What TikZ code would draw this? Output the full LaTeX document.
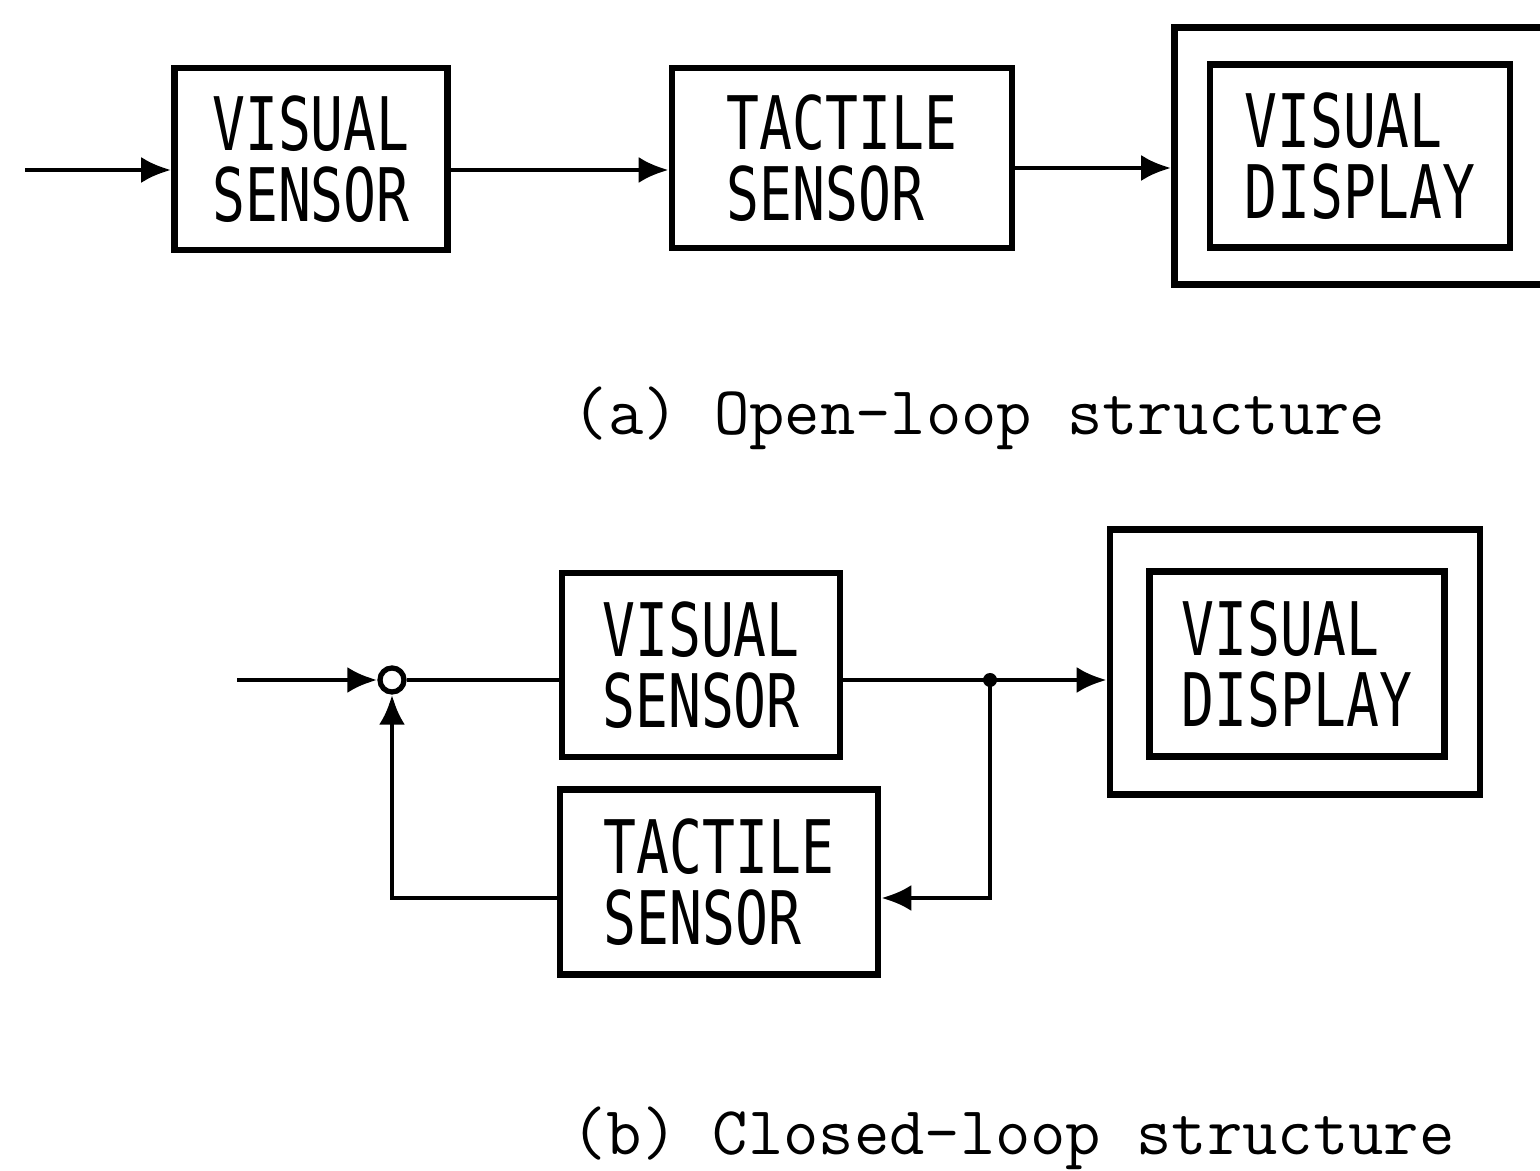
\documentclass[tikz,border=0pt]{standalone}
\usepackage{fontspec}
\usetikzlibrary{arrows.meta}
\newfontfamily\blkfont[FakeStretch=0.74]{DejaVu Sans Mono}
\tikzset{
  blk/.style={draw, line width=1.8pt, align=left, inner sep=0pt,
    font=\blkfont\fontsize{21}{20}\selectfont},
  wire/.style={line width=1.4pt},
  arr/.style={wire, -{Latex[length=3mm,width=2.6mm]}},
  caption/.style={font=\ttfamily\fontsize{19.5}{20}\selectfont}
}
\begin{document}
\begin{tikzpicture}[x=0.01cm,y=-0.01cm]
\useasboundingbox (0,0) rectangle (1540,1171);

% open loop
\coordinate (inA) at (25,170);
\node[blk, minimum width=2.73cm, minimum height=1.82cm] (visA) at (311,159) {VISUAL\\SENSOR};
\node[blk, minimum width=3.40cm, minimum height=1.80cm] (tacA) at (842,158) {TACTILE\\SENSOR};
\node[blk, minimum width=3.85cm, minimum height=2.57cm] (dispAout) at (1367,156) {};
\node[blk, minimum width=3.00cm, minimum height=1.83cm] (dispA) at (1360,156) {VISUAL\\DISPLAY};
\draw[arr] (inA) -- (inA -| visA.west);
\draw[arr] (visA.east |- inA) -- (tacA.west |- inA);
\draw[arr] (tacA.east |- 0,168) -- (dispAout.west |- 0,168);
\node[caption] (capA) at (979,418) {(a) Open-loop structure};

% closed loop
\coordinate (inB) at (237,680);
\node[draw, circle, line width=1.5pt, minimum size=0.24cm, inner sep=0pt] (sum) at (392,680) {};
\node[blk, minimum width=2.78cm, minimum height=1.84cm] (visB) at (701,665) {VISUAL\\SENSOR};
\node[blk, minimum width=3.18cm, minimum height=1.85cm] (tacB) at (719,882) {TACTILE\\SENSOR};
\node[blk, minimum width=3.70cm, minimum height=2.65cm] (dispBout) at (1295,662) {};
\node[blk, minimum width=2.95cm, minimum height=1.85cm] (dispB) at (1297,664) {VISUAL\\DISPLAY};
\coordinate (jB) at (990,680);
\coordinate (fbR) at (990,898);
\coordinate (fbL) at (392,898);
\fill (jB) circle (7);
\draw[arr] (inB) -- (sum.west);
\draw[wire] (sum.east) -- (visB.west |- sum);
\draw[wire] (visB.east |- sum) -- (jB);
\draw[arr] (jB) -- (dispBout.west |- jB);
\draw[arr] (jB) -- (fbR) -- (tacB.east |- fbR);
\draw[arr] (tacB.west |- fbL) -- (fbL) -- (sum.south);
\node[caption] (capB) at (1013,1138) {(b) Closed-loop structure};
\end{tikzpicture}
\end{document}
